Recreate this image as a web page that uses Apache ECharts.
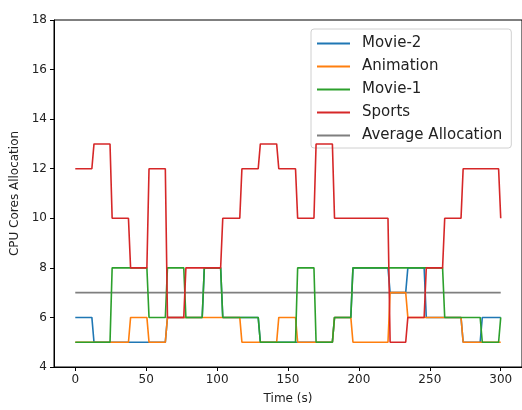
<!DOCTYPE html>
<html>
<head>
<meta charset="utf-8">
<script src="https://cdn.jsdelivr.net/npm/echarts@6/dist/echarts.min.js"></script>
<style>
html,body{margin:0;padding:0;background:#fff;}
#c{width:522px;height:410px;}
</style>
</head>
<body>
<div id="c"></div>
<script>
// Series data: [start time (s), cores] — value holds from that time on
const seriesNames = ['Movie-2', 'Animation', 'Movie-1', 'Sports', 'Average Allocation'];
const movie2Segments = [[0,6],[11.7,5],[63.5,6],[89.5,8],[102.5,6],[129,5],[181.3,6],[194.3,8],[220.5,7],[233,8],[246,6],[272,5],[285.5,6]];
const animationSegments = [[0,5],[37.5,6],[50.5,5],[63.5,6],[116,5],[142,6],[155.3,5],[181.3,6],[194.3,5],[220.5,7],[233,6],[272,5]];
const movie1Segments = [[0,5],[24.5,8],[50.5,6],[63.5,8],[76.5,6],[89.5,8],[102.5,6],[129,5],[155.3,8],[168.3,5],[181.3,6],[194.3,8],[259,6],[285.5,5],[298.5,6]];
const sportsSegments = [[0,12],[11.7,13],[24.5,10],[37.5,8],[50.5,12],[63.5,6],[76.5,8],[102.5,10],[116,12],[129,13],[142,12],[155.3,10],[168.3,13],[181.3,10],[220.5,5],[233,6],[246,8],[259,10],[272,12],[298.5,10]];
const averageLine = [[0,7],[300,7]];
const endTime = 300;
const xTicks = [0, 50, 100, 150, 200, 250, 300];
const yTicks = [4, 6, 8, 10, 12, 14, 16, 18];

const RAMP = 1.5;
function toPath(segs) {
  const pts = [[segs[0][0], segs[0][1]]];
  for (let i = 1; i < segs.length; i++) {
    pts.push([segs[i][0], segs[i - 1][1]]);
    pts.push([Math.min(segs[i][0] + RAMP, endTime), segs[i][1]]);
  }
  const last = pts[pts.length - 1];
  if (last[0] < endTime) pts.push([endTime, last[1]]);
  return pts;
}

const colors = ['#1f77b4', '#ff7f0e', '#2ca02c', '#d62728', '#7f7f7f'];
const zOrder = [2, 4, 5, 6, 3];
const dataSets = [toPath(movie2Segments), toPath(animationSegments), toPath(movie1Segments), toPath(sportsSegments), averageLine];

const chart = echarts.init(document.getElementById('c'), null, {renderer: 'canvas'});
const font = 'DejaVu Sans';
chart.setOption({
  animation: false,
  backgroundColor: '#fff',
  color: colors,
  grid: {left: 54, top: 20, right: -1, bottom: 39, show: true, borderColor: '#000', borderWidth: 1, backgroundColor: 'transparent'},
  xAxis: {
    type: 'value', min: -15, max: 315,
    name: 'Time (s)', nameLocation: 'middle', nameGap: 26,
    nameTextStyle: {fontFamily: font, fontSize: 12, color: '#222'},
    axisLine: {show: true, onZero: false, lineStyle: {color: '#000', width: 1}},
    axisTick: {show: true, inside: false, length: 4, lineStyle: {color: '#000'}, customValues: xTicks},
    axisLabel: {fontFamily: font, fontSize: 12, color: '#222', margin: 7, customValues: xTicks},
    splitLine: {show: false}
  },
  yAxis: {
    type: 'value', min: 4, max: 18, interval: 2,
    name: 'CPU Cores Allocation', nameLocation: 'middle', nameGap: 30,
    nameTextStyle: {fontFamily: font, fontSize: 12, color: '#222'},
    axisLine: {show: true, onZero: false, lineStyle: {color: '#000', width: 1}},
    axisTick: {show: true, inside: false, length: 4, lineStyle: {color: '#000'}, customValues: yTicks},
    axisLabel: {fontFamily: font, fontSize: 12, color: '#222', margin: 7, customValues: yTicks},
    splitLine: {show: false}
  },
  legend: {
    orient: 'vertical', left: 311, top: 29,
    data: seriesNames,
    icon: 'rect', itemWidth: 33, itemHeight: 2, itemGap: 8,
    padding: [7, 9, 5, 6],
    borderColor: '#d0d0d0', borderWidth: 1, borderRadius: 3,
    backgroundColor: 'rgba(255,255,255,0.85)',
    textStyle: {fontFamily: font, fontSize: 15, color: '#222', lineHeight: 15, padding: [0, 0, 0, 7]}
  },
  series: seriesNames.map((n, i) => ({
    name: n, type: 'line', data: dataSets[i],
    showSymbol: false, symbol: 'none',
    lineStyle: {width: 1.6, color: colors[i]},
    itemStyle: {color: colors[i]},
    emphasis: {disabled: true},
    z: zOrder[i]
  }))
});
</script>
</body>
</html>
